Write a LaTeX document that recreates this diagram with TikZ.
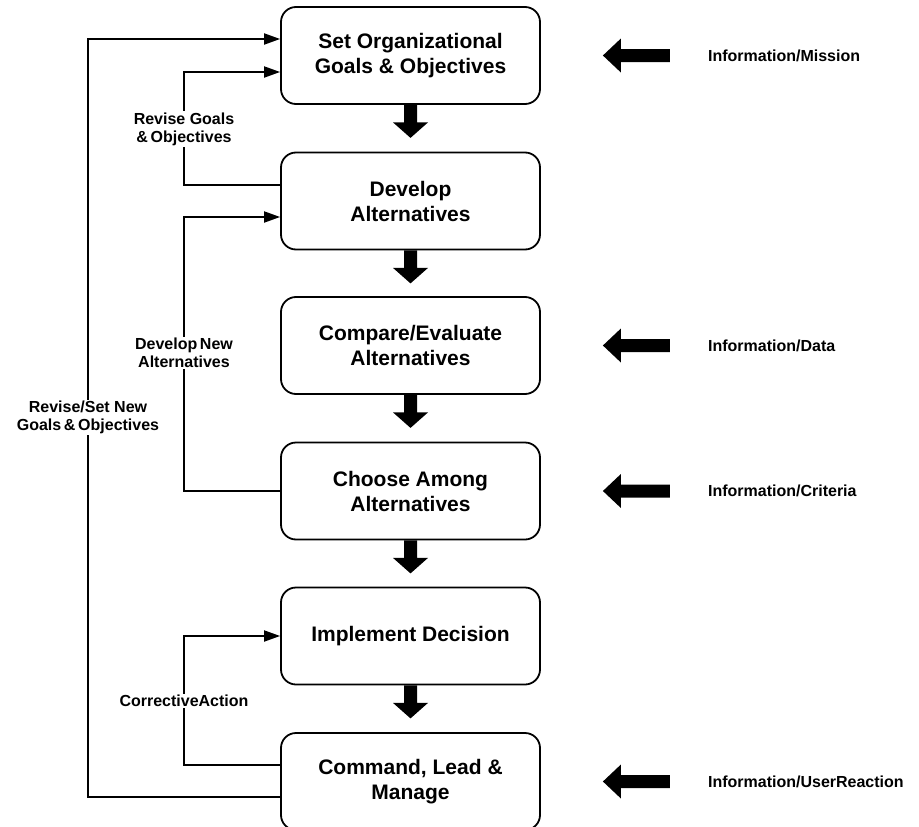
\documentclass[tikz,border=0pt]{standalone}
\usepackage{fontspec}
\setmainfont{Liberation Sans}
\usetikzlibrary{arrows.meta}
\begin{document}
\begin{tikzpicture}[x=1pt,y=-1pt,
  stage/.style={draw, line width=1.8pt, rounded corners=15pt,
    minimum width=259pt, minimum height=97pt, inner sep=0pt, align=center,
    font=\fontsize{21}{25}\selectfont\bfseries},
  fb/.style={line width=1.8pt, -{Triangle[length=16pt,width=11pt]}},
  tag/.style={fill=white, align=center, inner sep=1.5pt,
    font=\fontsize{16}{18}\selectfont\bfseries},
  info/.style={anchor=west, inner sep=0pt,
    font=\fontsize{16}{18}\selectfont\bfseries}
]
\useasboundingbox (0,0) rectangle (919,827);
\clip (0,0) rectangle (919,827);

% process stages
\node[stage] (goals)     at (410.5,55.5)  {Set Organizational\\Goals \& Objectives};
\node[stage] (develop)   at (410.5,201)   {Develop\\Alternatives};
\node[stage] (compare)   at (410.5,345.5) {Compare/Evaluate\\Alternatives};
\node[stage] (choose)    at (410.5,491)   {Choose Among\\Alternatives};
\node[stage] (implement) at (410.5,636)   {Implement Decision};
\node[stage] (command)   at (410.5,781.5) {Command, Lead \&\\Manage};

% thick down arrows between stages
\foreach \s in {goals,develop,compare,choose,implement}
  \fill[shift={(\s.south)}] (-6.5,0) -- (6.5,0) -- (6.5,17.5) -- (17.5,17.5)
    -- (0,33) -- (-17.5,17.5) -- (-6.5,17.5) -- cycle;

% thick inputs from the right
\foreach \s in {goals,compare,choose,command}
  \fill[shift={(\s.east)}] (62,0) -- (80,-17) -- (80,-6.5) -- (129,-6.5)
    -- (129,6.5) -- (80,6.5) -- (80,17) -- cycle;

\node[info] (inMission)  at ([xshift=167pt,yshift=-0.5pt]goals.east)   {Information/Mission};
\node[info] (inData)     at ([xshift=167pt]compare.east) {Information/Data};
\node[info] (inCriteria) at ([xshift=167pt]choose.east)  {Information/Criteria};
\node[info] (inReaction) at ([xshift=167pt]command.east) {Information/UserReaction};

% feedback loops
\coordinate (railOuter)   at (88,417.5);
\coordinate (railGoals)   at (184,129);
\coordinate (railAlt)     at (184,353);
\coordinate (railCorrect) at (184,701);

\draw[fb] ([yshift=-15.5pt]command.west) -| (railOuter) |- ([yshift=16.5pt]goals.west);
\draw[fb] ([yshift=16pt]develop.west) -| (railGoals) |- ([yshift=-16.5pt]goals.west);
\draw[fb] (choose.west) -| (railAlt) |- ([yshift=-16pt]develop.west);
\draw[fb] ([yshift=16.5pt]command.west) -| (railCorrect) |- (implement.west);

\node[tag] (tOuter)   at (railOuter)   {Revise/Set New\\Goals\,\&\,Objectives};
\node[tag] (tGoals)   at (railGoals)   {Revise Goals\\\&\,Objectives};
\node[tag] (tAlt)     at (railAlt)     {Develop\,New\\Alternatives};
\node[tag] (tCorrect) at (railCorrect) {CorrectiveAction};
\end{tikzpicture}
\end{document}
